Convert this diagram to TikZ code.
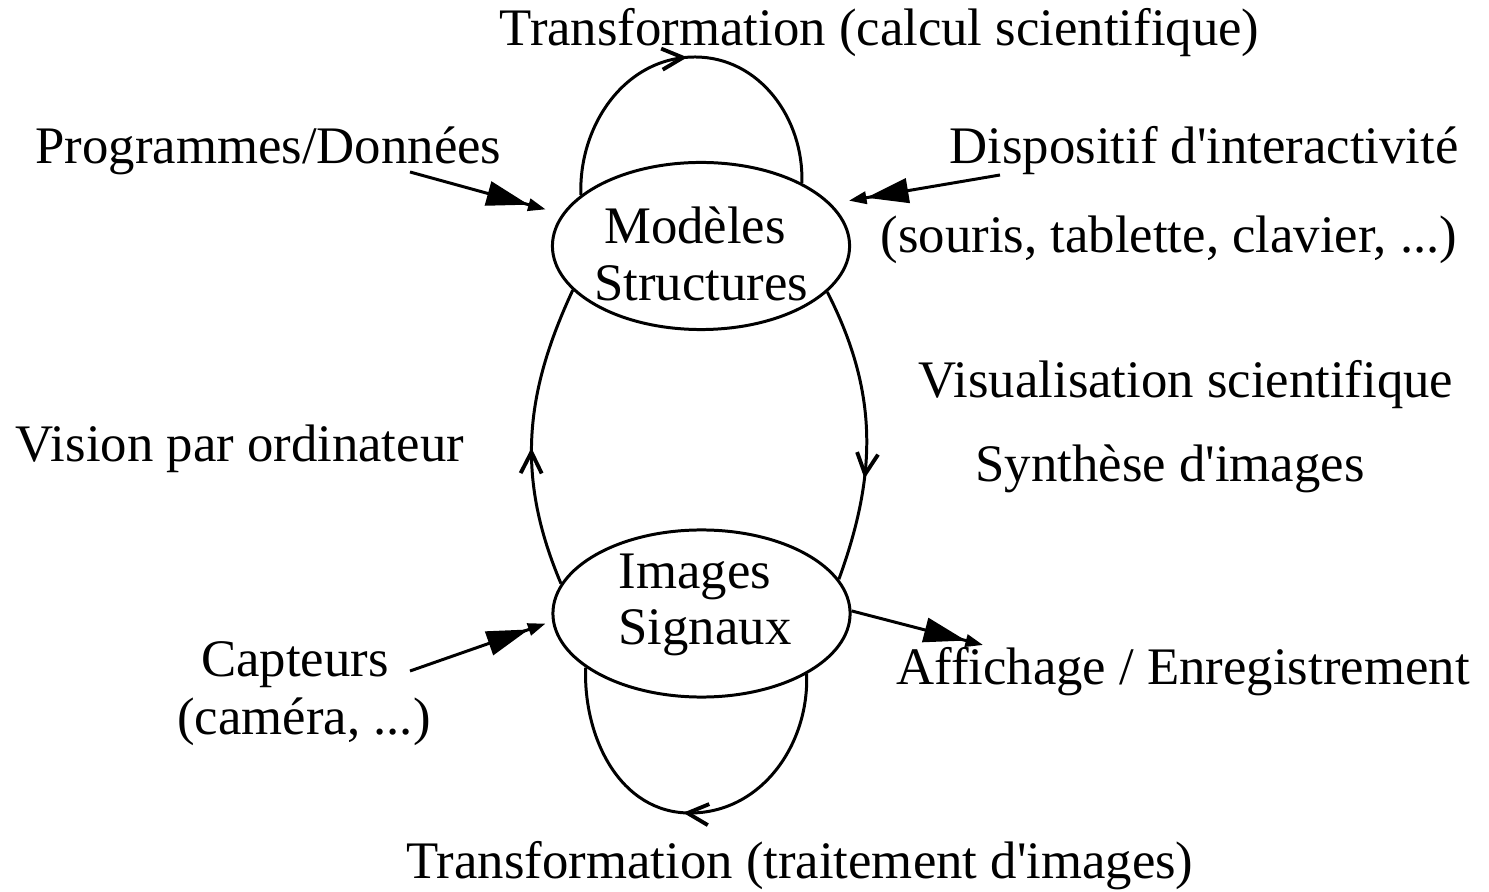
\documentclass[tikz,border=0pt]{standalone}
\usepackage{fontspec}
\setmainfont{Liberation Serif}
\usetikzlibrary{positioning,shapes.geometric,arrows.meta,decorations.markings}
\tikzstyle{diagram} = [x = 0.01cm, y = -0.01cm, line width = 0.85pt]
\tikzstyle{stageStyle} = [draw, ellipse, minimum width = 2.97cm, minimum height = 1.67cm, inner sep = 0pt]
\tikzstyle{labelText} = [font = \fontsize{15}{18}\selectfont, inner sep = 0pt, anchor = base]
\tikzstyle{feedArrow} = [-{Triangle[length = 12pt, width = 7pt]Triangle[length = 5pt, width = 3.5pt]}]
\tikzset{midArrow/.style = {postaction = decorate, decoration = {markings,
      mark = at position #1 with {\arrow{Straight Barb[length = 6pt, width = 6pt, line width = 1.1pt]}}}}}
\newcommand{\q}{\textquotesingle}

\begin{document}
\begin{tikzpicture}[diagram]
  \useasboundingbox (0,0) rectangle (1489,892);

  % the two stages
  \node [stageStyle] (models) at (701,246) {};
  \node [stageStyle] (images) at (701.5,613.5) {};
  \node [labelText] (modelsTop) at (695,244) {Modèles};
  \node [labelText] (modelsBottom) at (701,301) {Structures};
  \node [labelText] (imagesTop) at (695,588) {Images};
  \node [labelText] (imagesBottom) at (705,644) {Signaux};

  % labels
  \node [labelText] (transformTop) at (879.5,46) {Transformation (calcul scientifique)};
  \node [labelText] (programs) at (268.5,164) {Programmes/Données};
  \node [labelText] (device) at (1204,164) {Dispositif d\q interactivité};
  \node [labelText] (deviceList) at (1169,253) {(souris, tablette, clavier, ...)};
  \node [labelText] (visu) at (1186,398) {Visualisation scientifique};
  \node [labelText] (synthesis) at (1170,482) {Synthèse d\q images};
  \node [labelText] (vision) at (240,462) {Vision par ordinateur};
  \node [labelText] (sensors) at (295,676) {Capteurs};
  \node [labelText] (sensorList) at (304,734) {(caméra, ...)};
  \node [labelText] (display) at (1183,684) {Affichage / Enregistrement};
  \node [labelText] (transformBottom) at (800,878) {Transformation (traitement d\q images)};

  % loops and arcs
  \coordinate (topTurn) at (695,57);
  \coordinate (bottomTurn) at (690,813);

  \draw [midArrow = 0.5] (models.157) to [out = 92, in = 180] (topTurn)
    to [out = 0, in = 88] (models.32);
  \draw [midArrow = 0.52] (images.-30) to [out = -88, in = 0] (bottomTurn)
    to [out = 180, in = -92] (images.205);
  \draw [midArrow = 0.46] (images.168) to [out = 113, in = 245] (models.199);
  \draw [midArrow = 0.65] (models.340) to [out = -63, in = 70] (images.14);

  % inputs and outputs
  \coordinate (programsEnd) at (410,172);
  \coordinate (deviceEnd) at (1000,175);
  \coordinate (sensorsEnd) at (410,671);
  \coordinate (displayEnd) at (983,645);
  \draw [feedArrow, shorten > = 0.17cm] (programsEnd) -- (models.167);
  \draw [feedArrow, shorten > = 0.18cm] (deviceEnd) -- (models.18);
  \draw [feedArrow, shorten > = 0.07cm] (sensorsEnd) -- (images.183);
  \draw [feedArrow] (images.1) -- (displayEnd);
\end{tikzpicture}
\end{document}
